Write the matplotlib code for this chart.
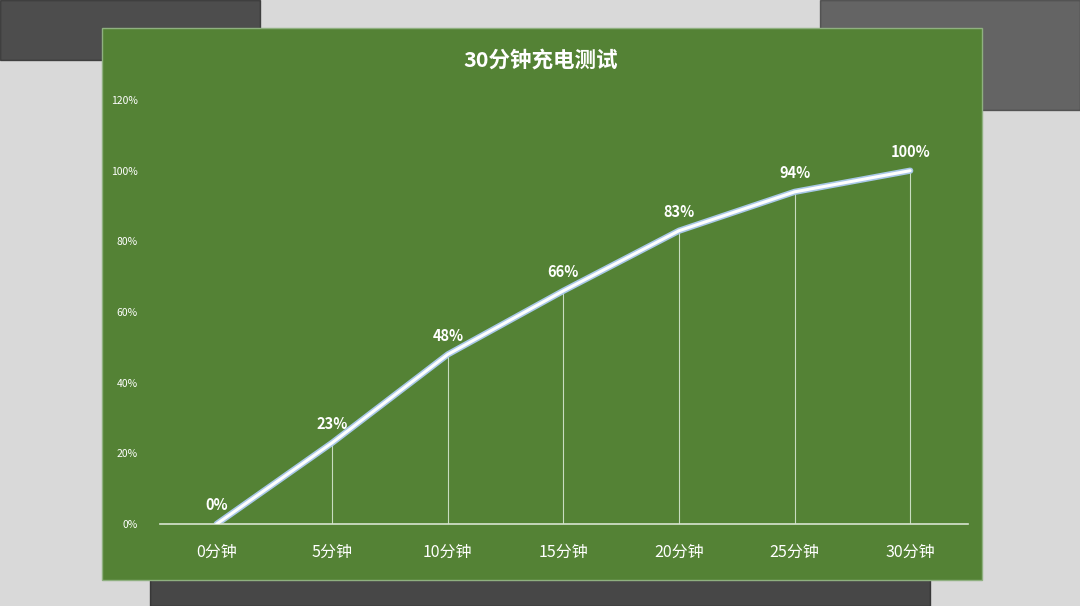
import matplotlib
matplotlib.use("Agg")
import matplotlib.pyplot as plt
from matplotlib.patches import Rectangle

# ===== data =====
categories = ["0分钟", "5分钟", "10分钟", "15分钟", "20分钟", "25分钟", "30分钟"]
charge = [0, 23, 48, 66, 83, 94, 100]
y_ticks = [0, 20, 40, 60, 80, 100, 120]
title = "30分钟充电测试"

FONT = "Noto Sans CJK SC"
GREEN = "#548235"
W, H = 1080, 606

fig = plt.figure(figsize=(W / 100, H / 100), dpi=100)
fig.patch.set_facecolor("#d9d9d9")

# rough blurred background
bg = fig.add_axes([0, 0, 1, 1])
bg.set_xlim(0, W)
bg.set_ylim(H, 0)
bg.axis("off")
bg.add_patch(Rectangle((0, 0), 260, 60, color="#2a2a2a", alpha=0.8))
bg.add_patch(Rectangle((820, 0), 260, 110, color="#333333", alpha=0.7))
bg.add_patch(Rectangle((150, 570), 780, 36, color="#222222", alpha=0.8))
bg.add_patch(Rectangle((102, 28), 880, 552, color=GREEN, ec="#8fb080", lw=1))
bg.text(541, 60, title, color="white", fontsize=15.5, fontweight="bold",
        ha="center", va="center", family=FONT)

ax = fig.add_axes([160 / W, (H - 524) / H, (968 - 160) / W, 424 / H])
ax.set_facecolor("none")
x = list(range(len(categories)))
ax.set_xlim(-0.49, 6.5)
ax.set_ylim(0, 120)

for xi, v in zip(x, charge):
    ax.plot([xi, xi], [0, v], color="#c8dcc0", lw=0.8, zorder=1)
ax.plot(x, charge, color="#a9c8e8", lw=4.5, solid_capstyle="round", zorder=2)
ax.plot(x, charge, color="white", lw=2.2, solid_capstyle="round", zorder=3)
for xi, v in zip(x, charge):
    ax.text(xi, v + 3, f"{v}%", color="white", fontsize=10.5, fontweight="bold",
            ha="center", va="bottom", family=FONT)

ax.set_xticks(x)
ax.set_xticklabels(categories, family=FONT, fontsize=11.5, color="white")
ax.set_yticks(y_ticks)
ax.set_yticklabels([f"{t}%" for t in y_ticks], fontsize=7.5, color="white", family=FONT)
ax.tick_params(length=0, pad=16)
ax.tick_params(axis="x", pad=14)
for s in ["top", "right", "left"]:
    ax.spines[s].set_visible(False)
ax.spines["bottom"].set_color("#d8e4d0")
ax.spines["bottom"].set_linewidth(1.2)

fig.savefig("out.png", dpi=100, facecolor=fig.get_facecolor())
